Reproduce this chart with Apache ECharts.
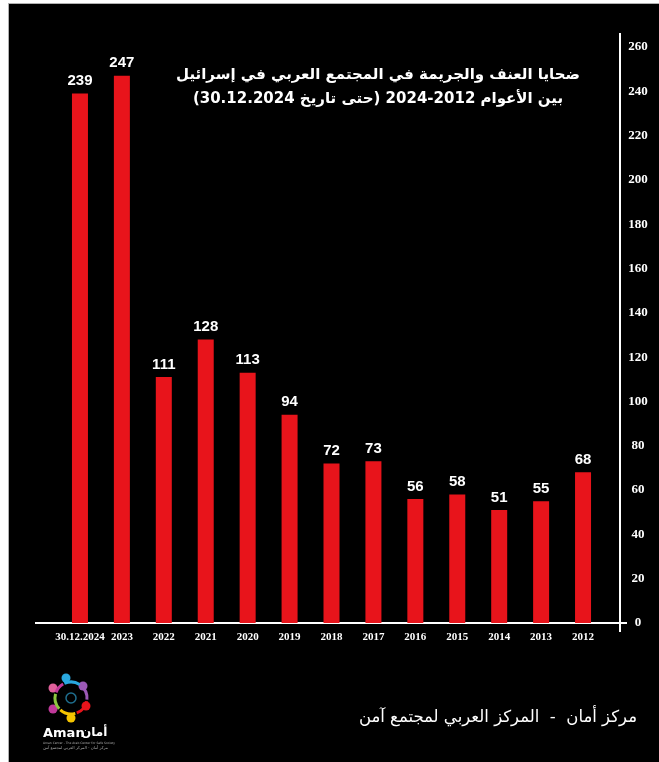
<!DOCTYPE html>
<html>
<head>
<meta charset="utf-8">
<script src="https://cdn.jsdelivr.net/npm/echarts@6/dist/echarts.min.js"></script>
<style>
  html, body { margin: 0; padding: 0; background: #ffffff; }
  #chart {
    position: absolute; left: 8px; top: 3px;
    width: 651px; height: 759px;
    background: #000000;
    border-left: 1px solid #b0b0b0; border-top: 1px solid #b0b0b0;
    box-sizing: border-box;
  }
</style>
</head>
<body>
<div id="chart" dir="rtl"></div>
<script>
// Victims of violence and crime in Arab society, by year
const years = ['30.12.2024', '2023', '2022', '2021', '2020', '2019', '2018', '2017', '2016', '2015', '2014', '2013', '2012'];
const victims = [239, 247, 111, 128, 113, 94, 72, 73, 56, 58, 51, 55, 68];
const yMin = 0, yMax = 260, yStep = 20;

const titleLine1 = 'ضحايا العنف والجريمة في المجتمع العربي في إسرائيل';
const titleLine2 = 'بين الأعوام 2012-2024 (حتى تاريخ 30.12.2024)';
const footerText = 'مركز أمان  -  المركز العربي لمجتمع آمن';

const chart = echarts.init(document.getElementById('chart'), null, { renderer: 'canvas' });

const serifBold = { fontFamily: 'Liberation Serif', fontWeight: 'bold', color: '#ffffff' };

chart.setOption({
  backgroundColor: '#000000',
  animation: false,
  grid: { left: 50, right: 55, top: 43, bottom: 139 },
  xAxis: {
    type: 'category',
    data: years,
    axisLine: { show: false },
    axisTick: { show: false },
    axisLabel: Object.assign({ fontSize: 11, margin: 9, interval: 0 }, serifBold),
    splitLine: { show: false }
  },
  yAxis: {
    type: 'value',
    position: 'right',
    offset: 16,
    min: yMin, max: yMax, interval: yStep,
    axisLine: { show: false },
    axisTick: { show: false },
    splitLine: { show: false },
    axisLabel: Object.assign({ fontSize: 13, margin: 18, align: 'center' }, serifBold)
  },
  series: [{
    type: 'bar',
    data: victims,
    barWidth: 16,
    itemStyle: { color: '#e8141b' },
    label: {
      show: true, position: 'top', distance: 5,
      color: '#ffffff', fontSize: 15, fontWeight: 'bold',
      fontFamily: 'Liberation Sans'
    }
  }],
  graphic: [
    // axis lines crossing at the origin
    { type: 'line', shape: { x1: 611, y1: 29, x2: 611, y2: 628 }, style: { stroke: '#ffffff', lineWidth: 2 } },
    { type: 'line', shape: { x1: 26, y1: 619, x2: 618, y2: 619 }, style: { stroke: '#ffffff', lineWidth: 2 } },
    // title
    { type: 'text', style: {
        text: titleLine1 + '\n' + titleLine2, x: 369, y: 59,
        textAlign: 'center', fill: '#ffffff',
        font: 'bold 15px "DejaVu Sans"', lineHeight: 24
      } },
    // footer
    { type: 'text', style: {
        text: footerText, x: 628, y: 705, textAlign: 'right',
        fill: '#ffffff', font: '16.5px "DejaVu Sans"'
      } },
    // logo: ring of figures
    { type: 'group', x: 64, y: 690, children: [
      { type: 'circle', shape: { cx: -7, cy: -16, r: 4.5 }, style: { fill: '#29a8e0' } },
      { type: 'circle', shape: { cx: 10, cy: -8, r: 4.5 }, style: { fill: '#9b59b6' } },
      { type: 'circle', shape: { cx: 13, cy: 12, r: 4.5 }, style: { fill: '#e8141b' } },
      { type: 'circle', shape: { cx: -2, cy: 24, r: 4.5 }, style: { fill: '#f5c400' } },
      { type: 'circle', shape: { cx: -20, cy: 15, r: 4.5 }, style: { fill: '#c0399a' } },
      { type: 'circle', shape: { cx: -20, cy: -6, r: 4.5 }, style: { fill: '#e0609a' } },
      { type: 'arc', shape: { cx: -2, cy: 4, r: 16, startAngle: -2.0, endAngle: -1.0 }, style: { stroke: '#29a8e0', lineWidth: 3, fill: null } },
      { type: 'arc', shape: { cx: -2, cy: 4, r: 16, startAngle: -0.9, endAngle: 0.1 }, style: { stroke: '#9b59b6', lineWidth: 3, fill: null } },
      { type: 'arc', shape: { cx: -2, cy: 4, r: 16, startAngle: 0.2, endAngle: 1.2 }, style: { stroke: '#e8141b', lineWidth: 3, fill: null } },
      { type: 'arc', shape: { cx: -2, cy: 4, r: 16, startAngle: 1.3, endAngle: 2.3 }, style: { stroke: '#f5c400', lineWidth: 3, fill: null } },
      { type: 'arc', shape: { cx: -2, cy: 4, r: 16, startAngle: 2.4, endAngle: 3.4 }, style: { stroke: '#8dc63f', lineWidth: 3, fill: null } },
      { type: 'arc', shape: { cx: -2, cy: 4, r: 16, startAngle: 3.5, endAngle: 4.2 }, style: { stroke: '#c0399a', lineWidth: 3, fill: null } },
      { type: 'circle', shape: { cx: -2, cy: 4, r: 5 }, style: { fill: null, stroke: '#1f6f8f', lineWidth: 1.5 } }
    ] },
    { type: 'text', style: { text: 'Aman', x: 34, y: 723, fill: '#ffffff', font: 'bold 13px "DejaVu Sans"', textAlign: 'left' } },
    { type: 'text', style: { text: 'أمان', x: 72, y: 723, fill: '#ffffff', font: 'bold 12px "DejaVu Sans"', textAlign: 'left' } },
    { type: 'text', style: { text: 'Aman Center - The Arab Center for Safe Society', x: 34, y: 738, fill: '#aaaaaa', font: '3px "DejaVu Sans"', textAlign: 'left' } },
    { type: 'text', style: { text: 'مركز أمان - المركز العربي لمجتمع آمن', x: 34, y: 742, fill: '#aaaaaa', font: '4px "DejaVu Sans"', textAlign: 'left' } }
  ]
});
</script>
</body>
</html>
